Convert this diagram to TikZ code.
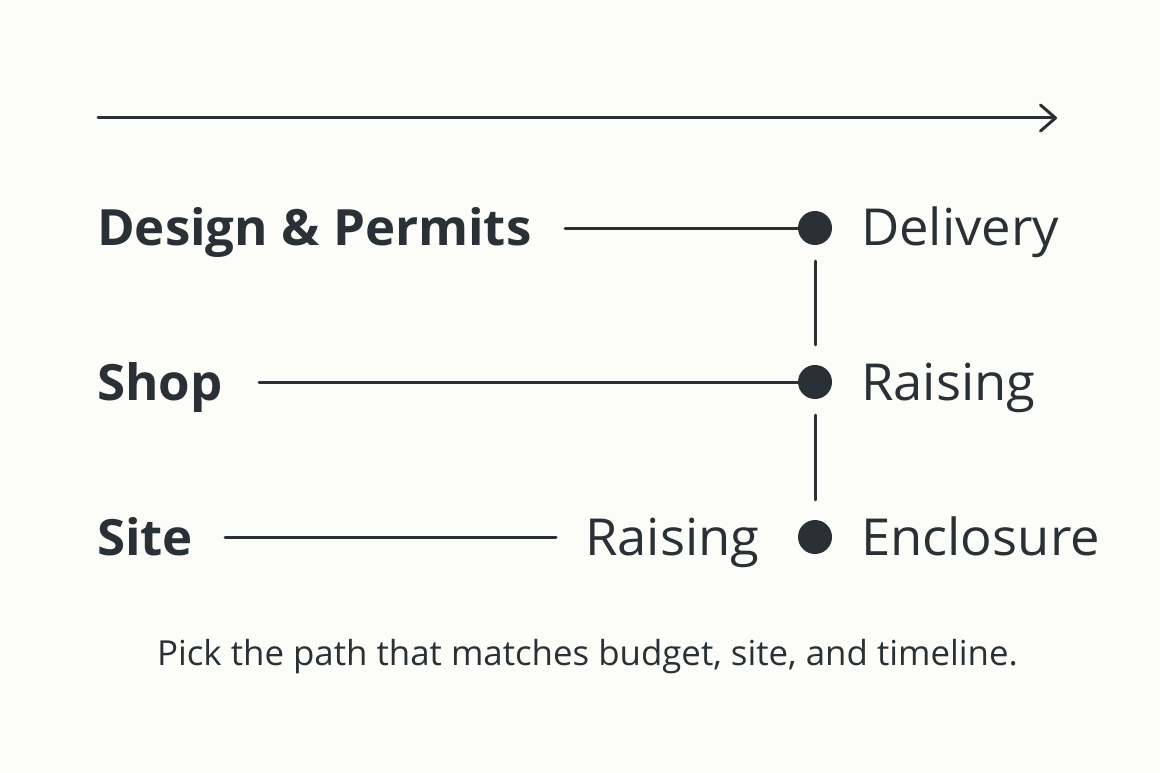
\documentclass[tikz,border=0pt]{standalone}
\usepackage{fontspec}
\setmainfont{Open Sans}
\usetikzlibrary{arrows.meta}
\definecolor{bg}{HTML}{FCFCF8}
\definecolor{ink}{HTML}{2A3136}
\tikzset{
  conn/.style={draw=ink, line width=3pt, line cap=round},
  lab/.style={anchor=base west, inner sep=0pt, text=ink, font=\fontsize{50}{55}\selectfont\bfseries, xscale=1.02},
  rlab/.style={anchor=base west, inner sep=0pt, text=ink, font=\fontsize{51}{55}\selectfont, xscale=1.03},
  dot/.style={circle, fill=ink, minimum size=34pt, inner sep=0pt},
  captext/.style={anchor=base, inner sep=0pt, text=ink, font=\fontsize{34.5}{40}\selectfont, xscale=1.01}
}
\begin{document}
\begin{tikzpicture}[x=1pt,y=-1pt]
\fill[bg] (0,0) rectangle (1160,773);
\useasboundingbox (0,0) rectangle (1160,773);
% time arrow
\coordinate (a0) at (98,118);
\coordinate (a1) at (1057,118);
\draw[conn, -{Straight Barb[length=15pt,width=26pt,round]}] (a0) -- (a1);
% rows
\node[lab] (design) at (97,245) {Design \& Permits};
\node[lab] (shop) at (97,400) {Shop};
\node[lab] (site) at (97,555) {Site};
\node[dot] (d1) at (815,228) {};
\node[dot] (d2) at (815,382) {};
\node[dot] (d3) at (815,537) {};
\node[rlab] (delivery) at (861,245) {Delivery};
\node[rlab] (raising1) at (861,400) {Raising};
\node[rlab] (enclosure) at (861,555) {Enclosure};
\node[rlab] (raising2) at (585,555) {Raising};
\coordinate (l1) at (565,228);
\coordinate (l2) at (259,382);
\coordinate (l3a) at (225,537);
\coordinate (l3b) at (556,537);
\draw[conn] (l1) -- (d1);
\draw[conn] (l2) -- (d2);
\draw[conn] (l3a) -- (l3b);
\draw[conn, shorten <=16pt, shorten >=20pt] (d1) -- (d2);
\draw[conn, shorten <=16pt, shorten >=20pt] (d2) -- (d3);
\node[captext] (caption) at (587.5,665) {Pick the path that matches budget, site, and timeline.};
\end{tikzpicture}
\end{document}
